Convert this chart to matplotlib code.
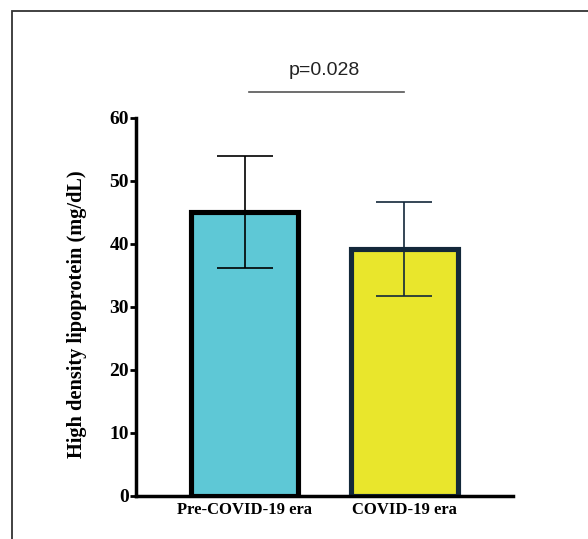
import matplotlib.pyplot as plt
from matplotlib.patches import Rectangle

# data
groups = ["Pre-COVID-19 era", "COVID-19 era"]
means = [45.1, 39.2]
sds = [8.9, 7.4]
fill_colors = ["#5ec8d6", "#e9e62c"]
edge_colors = ["#000000", "#13283a"]
p_label = "p=0.028"

fig = plt.figure(figsize=(5.88, 5.39), dpi=100)
ax = fig.add_axes([0.2313, 0.0798, 0.6411, 0.7013])

x = list(range(len(groups)))
ax.bar(x, means, width=0.67, color=fill_colors, edgecolor=edge_colors,
       linewidth=3.7, zorder=2)
for xi, m, sd, ec in zip(x, means, sds, edge_colors):
    ax.errorbar(xi, m, yerr=sd, fmt="none", ecolor=ec,
                elinewidth=1.2, capsize=20, capthick=1.2, zorder=3)

ax.set_xlim(-0.68, 1.68)
ax.set_ylim(0, 60)
ax.set_yticks([0, 10, 20, 30, 40, 50, 60])
ax.set_xticks(x)
ax.set_xticklabels(groups)

serif = ["Liberation Serif", "DejaVu Serif"]
for lab in ax.get_yticklabels():
    lab.set_family(serif)
    lab.set_fontweight("bold")
    lab.set_fontsize(14)
for lab in ax.get_xticklabels():
    lab.set_family(serif)
    lab.set_fontweight("bold")
    lab.set_fontsize(12)

ax.tick_params(axis="y", direction="out", length=4, width=2, pad=1)
ax.tick_params(axis="x", length=0, pad=4)
for s in ["top", "right"]:
    ax.spines[s].set_visible(False)
for s in ["left", "bottom"]:
    ax.spines[s].set_linewidth(2.5)

ax.set_ylabel("High density lipoprotein (mg/dL)", family=serif,
              fontweight="bold", fontsize=14.7)
ax.yaxis.set_label_coords(-0.13, 0.48)

# significance bar
ax.plot([0.03, 1.0], [64.1, 64.1], color="#555555", lw=1.2, clip_on=False)
ax.text(0.5, 66.2, p_label, ha="center", va="bottom", fontsize=14,
        family=["Liberation Sans", "DejaVu Sans"], color="#222222")

# outer frame of the figure panel
fig.patches.append(Rectangle((12 / 588, -0.05), 1.1, 1 - 11 / 539 + 0.05,
                             transform=fig.transFigure, fill=False,
                             edgecolor="#333333", lw=1.3))

fig.savefig("out.png", dpi=100)
